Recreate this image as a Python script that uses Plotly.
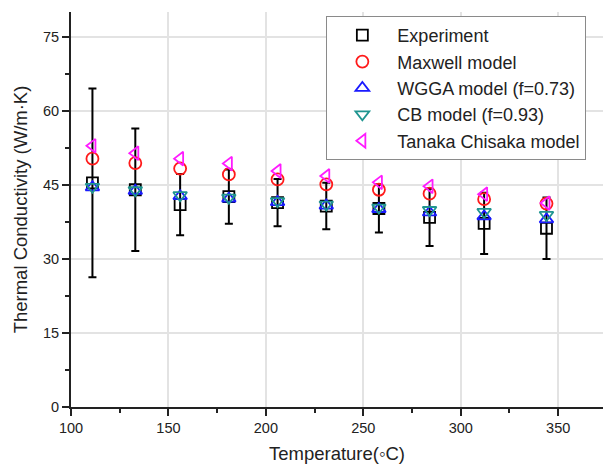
import plotly.graph_objects as go

temperature = [111, 133, 156, 181, 206, 231, 258, 284, 312, 344]
experiment = [45.4, 44.0, 41.0, 42.6, 41.4, 40.7, 40.2, 38.4, 37.2, 36.2]
experiment_err = [19.1, 12.4, 6.2, 5.5, 4.8, 4.7, 4.85, 5.8, 6.2, 6.25]
maxwell = [50.3, 49.4, 48.3, 47.1, 46.1, 45.1, 44.0, 43.2, 42.1, 41.2]
wgga = [44.5, 43.8, 42.7, 42.2, 41.5, 40.8, 40.1, 39.4, 38.6, 38.0]
cb = [44.6, 43.9, 42.9, 42.4, 41.7, 41.0, 40.4, 39.9, 39.5, 38.9]
tanaka = [52.9, 51.4, 50.3, 49.3, 47.8, 46.8, 45.5, 44.7, 43.1, 41.3]

x_ticks = [100, 150, 200, 250, 300, 350]
y_ticks = [0, 15, 30, 45, 60, 75]

FONT = "Liberation Sans, Arial, sans-serif"

fig = go.Figure()
fig.add_trace(go.Scatter(
    x=temperature, y=experiment, mode="markers", name="Experiment",
    marker=dict(symbol="square-open", size=11, color="black", line=dict(width=1.8)),
    error_y=dict(type="data", array=experiment_err, color="black", thickness=2, width=4),
))
fig.add_trace(go.Scatter(
    x=temperature, y=maxwell, mode="markers", name="Maxwell model",
    marker=dict(symbol="circle-open", size=12, color="#ff1a1a", line=dict(width=1.8)),
))
fig.add_trace(go.Scatter(
    x=temperature, y=wgga, mode="markers", name="WGGA model (f=0.73)",
    marker=dict(symbol="triangle-up-open", size=12, color="#1a1aff", line=dict(width=1.8)),
))
fig.add_trace(go.Scatter(
    x=temperature, y=cb, mode="markers", name="CB model (f=0.93)",
    marker=dict(symbol="triangle-down-open", size=12, color="#1f9590", line=dict(width=1.8)),
))
fig.add_trace(go.Scatter(
    x=temperature, y=tanaka, mode="markers", name="Tanaka Chisaka model",
    marker=dict(symbol="triangle-left-open", size=12, color="#ff1aff", line=dict(width=1.8)),
))

axis_line = "#222222"
grid = "#e3e3e3"

fig.update_layout(
    width=603, height=471,
    margin=dict(l=70.5, r=0, t=12, b=64.3),
    paper_bgcolor="white", plot_bgcolor="white",
    font=dict(family=FONT, color="#222222", size=14),
    showlegend=True,
    legend=dict(
        x=0.48, y=0.99, xanchor="left", yanchor="top",
        bgcolor="white", bordercolor="#8a8a8a", borderwidth=1,
        font=dict(family=FONT, size=18, color="#222222"),
        itemwidth=60,
    ),
    xaxis=dict(
        range=[100, 373], tickvals=x_ticks, ticktext=[str(v) for v in x_ticks],
        showline=True, linecolor=axis_line, linewidth=2,
        ticks="outside", ticklen=7, tickwidth=2, tickcolor=axis_line,
        minor=dict(dtick=25, tick0=100, ticks="outside", ticklen=4, tickwidth=2, tickcolor=axis_line, showgrid=False),
        showgrid=True, gridcolor=grid, gridwidth=1.5,
        zeroline=False, automargin=False,
        tickfont=dict(size=14.5),
        title=dict(text="Temperature(\u25e6C)", font=dict(size=18.5), standoff=12),
    ),
    yaxis=dict(
        range=[0, 80], tickvals=y_ticks, ticktext=[str(v) for v in y_ticks],
        showline=True, linecolor=axis_line, linewidth=2,
        ticks="outside", ticklen=7, tickwidth=2, tickcolor=axis_line,
        minor=dict(dtick=7.5, tick0=0, ticks="outside", ticklen=4, tickwidth=2, tickcolor=axis_line, showgrid=False),
        showgrid=True, gridcolor=grid, gridwidth=1.5,
        zeroline=False, automargin=False,
        tickfont=dict(size=14.5),
        title=dict(text="Thermal Conductivity (W/m\u00b7K)", font=dict(size=18.5), standoff=10),
    ),
    xaxis2=dict(
        overlaying="x", side="top", anchor="y", range=[100, 373],
        tickvals=x_ticks, showticklabels=False,
        showline=True, linecolor=axis_line, linewidth=2,
        ticks="inside", ticklen=7, tickwidth=2, tickcolor=axis_line,
        minor=dict(dtick=25, tick0=100, ticks="inside", ticklen=4, tickwidth=2, tickcolor=axis_line),
        showgrid=False, zeroline=False, automargin=False,
    ),
    yaxis2=dict(
        overlaying="y", side="right", anchor="x", range=[0, 80],
        tickvals=y_ticks, showticklabels=False, showline=False,
        ticks="inside", ticklen=5, tickwidth=2, tickcolor=axis_line,
        minor=dict(dtick=7.5, tick0=0, ticks="inside", ticklen=2, tickwidth=2, tickcolor=axis_line),
        showgrid=False, zeroline=False, automargin=False,
    ),
)

fig.write_html("out.html", config={"displayModeBar": False},
               post_script="document.body.style.margin='0';")
